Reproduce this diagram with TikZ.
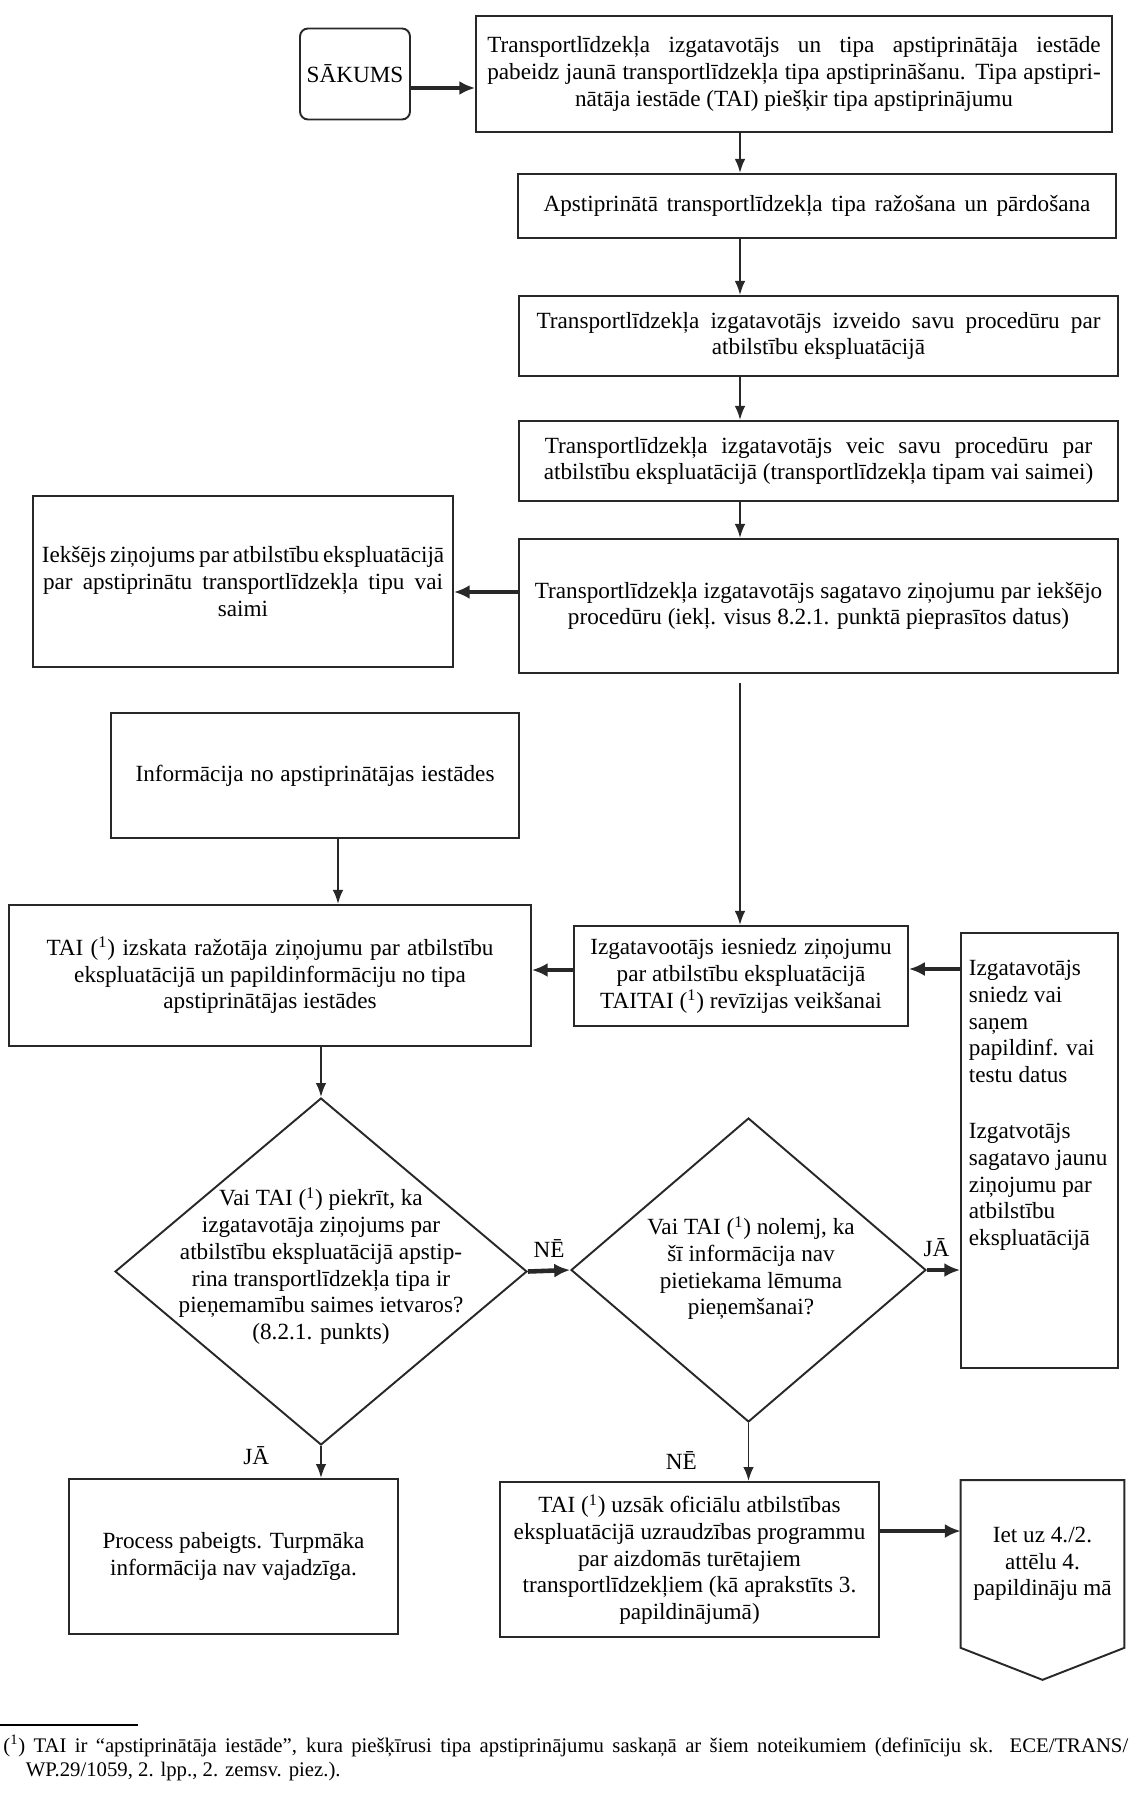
\documentclass[tikz,border=0pt]{standalone}
\usepackage{fontspec}
\setmainfont{Liberation Serif}
\usepackage{xcolor}
\usetikzlibrary{arrows.meta, positioning, shapes.geometric}
\definecolor{lineg}{RGB}{40,40,40}
\newcommand{\tairef}{(\textsuperscript{1})}
\newcommand{\spreadline}[2]{\makebox[#1][s]{#2}}

\begin{document}
\begin{tikzpicture}[x=0.02cm, y=-0.02cm, font=\fontsize{13.2}{15.2}\selectfont,
        box/.style={draw=lineg, line width=1.1pt, align=center, inner sep=2pt},
        dia/.style={diamond, draw=lineg, line width=1.1pt, inner sep=0pt},
        flow/.style={draw=lineg, line width=1.1pt, -{Latex[length=8pt,width=6pt]}},
        bigflow/.style={draw=lineg, line width=2.6pt, -{Latex[length=9pt,width=8pt]}}]
  \useasboundingbox (0,0) rectangle (1135,1797);
  \coordinate (spine) at (740,0);

  % right column
  \node[box, rounded corners=0.16cm, minimum width=2.2cm, minimum height=1.82cm] (start) at (355,74) {SĀKUMS};
  \node[box, minimum width=12.72cm, minimum height=2.32cm] (b1) at (794,74)
    {\spreadline{12.27cm}{Transportlīdzekļa izgatavotājs un tipa apstiprinātāja iestāde}\\
     \spreadline{12.27cm}{pabeidz jaunā transportlīdzekļa tipa apstiprināšanu. Tipa apstipri-}\\
     nātāja iestāde (TAI) piešķir tipa apstiprinājumu};
  \node[box, minimum width=11.96cm, minimum height=1.28cm] (b2) at (817,206)
    {\spreadline{10.94cm}{Apstiprinātā transportlīdzekļa tipa ražošana un pārdošana}};
  \node[box, minimum width=11.98cm, minimum height=1.6cm] (b3) at (818.5,336)
    {\spreadline{11.28cm}{Transportlīdzekļa izgatavotājs izveido savu procedūru par}\\
     atbilstību ekspluatācijā};
  \node[box, minimum width=11.98cm, minimum height=1.6cm] (b4) at (818.5,461)
    {\spreadline{10.95cm}{Transportlīdzekļa izgatavotājs veic savu procedūru par}\\
     atbilstību ekspluatācijā (transportlīdzekļa tipam vai saimei)};
  \node[box, minimum width=11.98cm, minimum height=2.68cm] (b5) at (818.5,606)
    {\spreadline{11.35cm}{Transportlīdzekļa izgatavotājs sagatavo ziņojumu par iekšējo}\\
     procedūru (iekļ. visus 8.2.1. punktā pieprasītos datus)};
  \node[box, minimum width=8.4cm, minimum height=3.42cm] (report) at (243,581.5)
    {\spreadline{8.05cm}{Iekšējs ziņojums par atbilstību ekspluatācijā}\\
     \spreadline{8.0cm}{par apstiprinātu transportlīdzekļa tipu vai}\\
     saimi};

  % middle part
  \node[box, minimum width=8.16cm, minimum height=2.5cm] (info) at (315,775.5)
    {\spreadline{7.18cm}{Informācija no apstiprinātājas iestādes}};
  \node[box, minimum width=10.44cm, minimum height=2.82cm] (tai) at (270,975.5)
    {\spreadline{8.94cm}{TAI \tairef{} izskata ražotāja ziņojumu par atbilstību}\\
     ekspluatācijā un papildinformāciju no tipa\\
     apstiprinātājas iestādes};
  \node[box, minimum width=6.68cm, minimum height=2cm] (izg) at (741,976)
    {\spreadline{6.03cm}{Izgatavootājs iesniedz ziņojumu}\\
     par atbilstību ekspluatācijā\\
     TAITAI \tairef{} revīzijas veikšanai};
  \node[box, minimum width=3.14cm, minimum height=8.7cm] (rbox) at (1039.5,1150.5) {};
  \node[anchor=north west, align=left, inner sep=0pt] (rtext) at ([xshift=0.17cm,yshift=-0.56cm]rbox.north west)
    {Izgatavotājs\\ sniedz vai\\ saņem\\ papildinf. vai\\ testu datus\\[0.59cm]
     Izgatvotājs\\ sagatavo jaunu\\ ziņojumu par\\ atbilstību\\ ekspluatācijā};

  % decisions
  \node[dia, minimum width=8.24cm, minimum height=6.94cm] (q1) at (321,1271.5) {};
  \node[align=center] (q1text) at (321,1266)
    {Vai TAI \tairef{} piekrīt, ka\\
     izgatavotāja ziņojums par\\
     atbilstību ekspluatācijā apstip-\\
     rina transportlīdzekļa tipa ir\\
     pieņemamību saimes ietvaros?\\
     (8.2.1. punkts)};
  \node[dia, minimum width=7.1cm, minimum height=6.08cm] (q2) at (748.5,1270) {};
  \node[align=center] (q2text) at (751,1268)
    {Vai TAI \tairef{} nolemj, ka\\
     šī informācija nav\\
     pietiekama lēmuma\\
     pieņemšanai?};

  % bottom row
  \node[box, minimum width=6.58cm, minimum height=3.1cm] (proc) at (233.5,1556.5)
    {Process pabeigts. Turpmāka\\
     informācija nav vajadzīga.};
  \node[box, minimum width=7.58cm, minimum height=3.1cm] (tai2) at (689.5,1559.5)
    {TAI \tairef{} uzsāk oficiālu atbilstības\\
     ekspluatācijā uzraudzības programmu\\
     par aizdomās turētajiem\\
     transportlīdzekļiem (kā aprakstīts 3.\\
     papildinājumā)};
  \node[minimum width=3.26cm, minimum height=3.34cm, align=center] (conn) at (1042.5,1564)
    {Iet uz 4./2.\\ attēlu 4.\\ papildināju mā};
  \draw[draw=lineg, line width=1.1pt] (conn.north west) -- (conn.north east) -- (conn.south east)
    -- ([yshift=-0.64cm]conn.south) -- (conn.south west) -- cycle;

  % arrows
  \draw[bigflow] ([yshift=-0.28cm]start.east) -- ([yshift=-0.28cm]start.east -| b1.west);
  \draw[flow] (b1.south -| spine) -- (b2.north -| spine);
  \draw[flow] (b2.south -| spine) -- (b3.north -| spine);
  \draw[flow] (b3.south -| spine) -- (b4.north -| spine);
  \draw[flow] (b4.south -| spine) -- (b5.north -| spine);
  \draw[bigflow] ([yshift=0.28cm]b5.west) -- ([yshift=0.28cm]b5.west -| report.east);
  \draw[flow] ([yshift=-0.18cm]b5.south -| spine) -- (izg.north -| spine);
  \draw[flow] ([xshift=0.46cm]info.south) -- ([xshift=0.46cm]info.south |- tai.north);
  \draw[bigflow] ([yshift=0.12cm]izg.west) -- ([yshift=0.12cm]izg.west -| tai.east);
  \draw[bigflow] ([yshift=0.14cm]izg.east -| rbox.west) -- ([yshift=0.14cm]izg.east);
  \draw[flow] (tai.south -| q1.north) -- (q1.north);
  \draw[bigflow] (q1.east) -- node[above=3pt] (ne1) {NĒ} (q2.west);
  \draw[bigflow] (q2.east) -- node[above=3pt, xshift=-4pt] (ja1) {JĀ} (q2.east -| rbox.west);
  \draw[flow] (q1.south) -- node[pos=0.3, left=0.9cm] (ja2) {JĀ} (q1.south |- proc.north);
  \draw[flow] (q2.south) -- node[pos=0.65, left=0.9cm] (ne2) {NĒ} (q2.south |- tai2.north);
  \draw[bigflow] ([yshift=0.66cm]conn.west -| tai2.east) -- ([yshift=0.66cm]conn.west);

  % footnote
  \draw[line width=0.6pt] (0,1725) -- (138,1725);
  \node[anchor=north west, inner sep=0pt, align=left,
        font=\fontsize{11.8}{13.8}\selectfont] (fnote) at (3,1735)
    {\spreadline{22.5cm}{\tairef{} TAI ir “apstiprinātāja iestāde”, kura piešķīrusi tipa apstiprinājumu saskaņā ar šiem noteikumiem (definīciju sk. ECE/TRANS/}\\
     \hspace*{0.45cm}WP.29/1059, 2. lpp., 2. zemsv. piez.).};
\end{tikzpicture}
\end{document}
